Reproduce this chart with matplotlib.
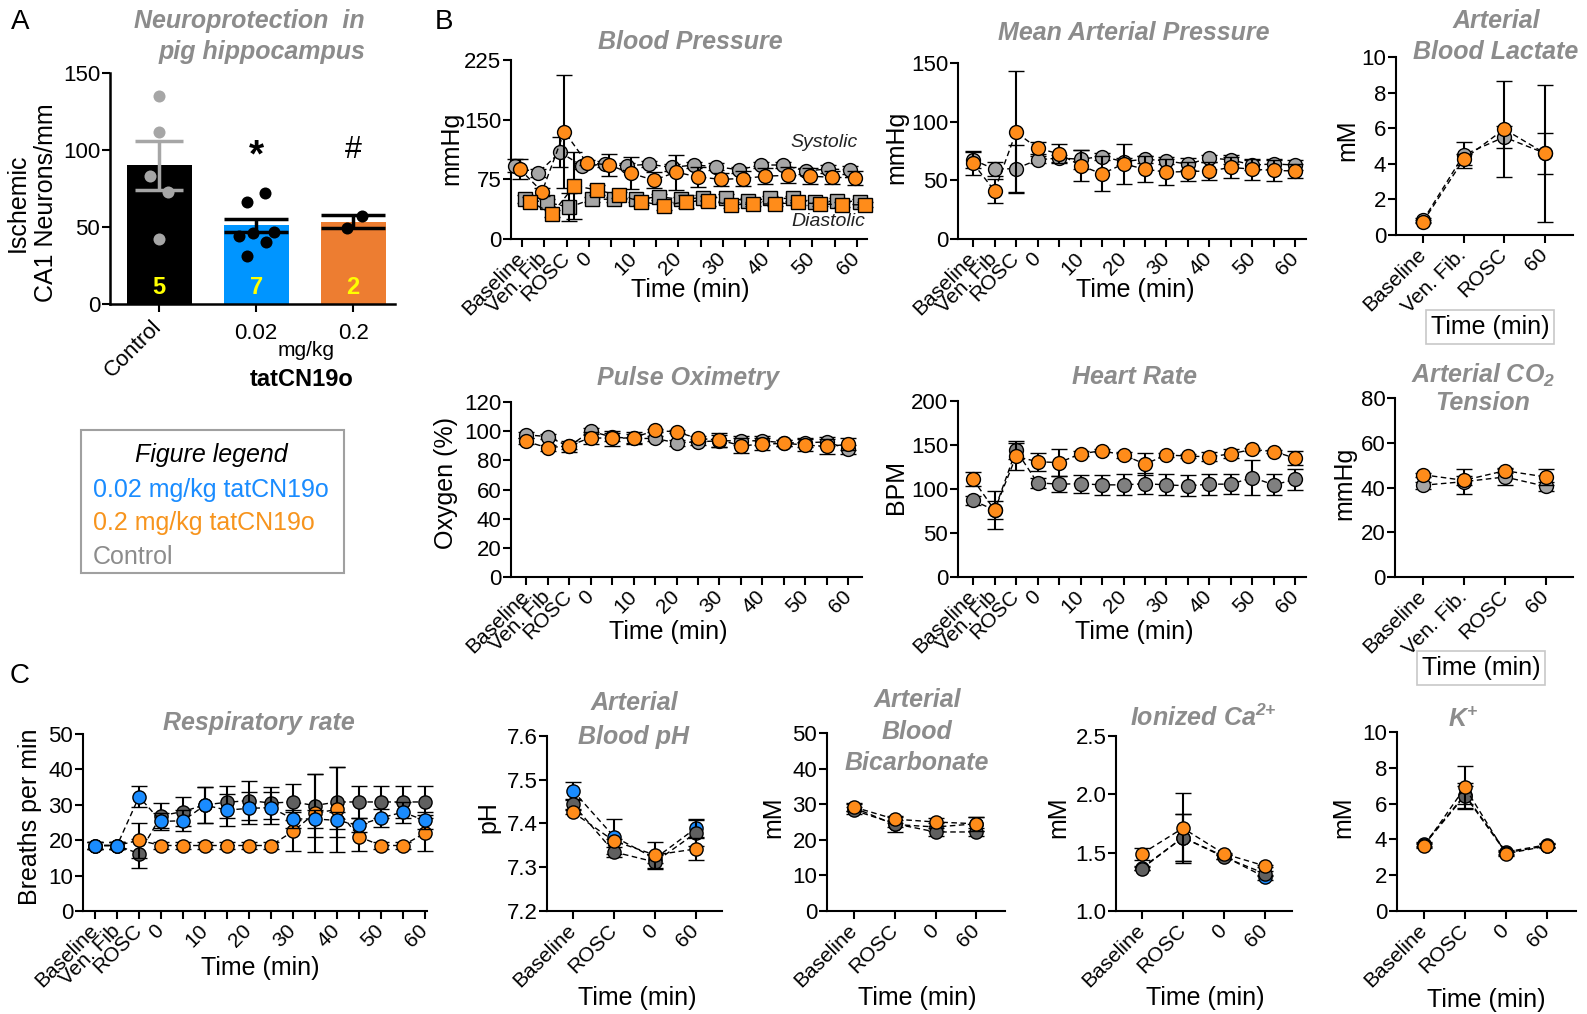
import numpy as np
import matplotlib
matplotlib.use("Agg")
import matplotlib.pyplot as plt
from matplotlib.patches import Rectangle
from matplotlib.ticker import FormatStrFormatter

W, H = 1587, 1014

plt.rcParams['font.family'] = ['Liberation Sans', 'DejaVu Sans']
plt.rcParams['mathtext.fontset'] = 'custom'
plt.rcParams['mathtext.rm'] = 'Liberation Sans:italic:bold'
plt.rcParams['mathtext.it'] = 'Liberation Sans:italic:bold'
plt.rcParams['mathtext.bf'] = 'Liberation Sans:italic:bold'

# ---------------- data ----------------
# panel A
a_groups = ["Control", "0.02", "0.2"]
a_means = [90, 51, 53.5]
a_sem = [16, 4, 4]
a_n = [5, 7, 2]
a_ctrl_pts = [135, 112, 83, 73, 42]
a_low_pts = [66, 72, 44, 46, 47, 40, 31]
a_high_pts = [49.5, 57]

# time axes
long_labels = ["Baseline", "Ven. Fib", "ROSC", "0", "", "10", "", "20", "", "30",
               "", "40", "", "50", "", "60"]
gas_labels = ["Baseline", "Ven. Fib.", "ROSC", "60"]
chem_labels = ["Baseline", "ROSC", "0", "60"]

# blood pressure
bp_sys_ctrl = [92, 82.5, 109, 92, 94, 92, 94, 90, 93, 91, 87, 93, 93, 85.5, 88, 87]
bp_sys_ctrl_err = [8, 5, 19, 4, 4, 4, 4, 4, 4, 4, 4, 4, 4, 4, 5, 5]
bp_sys_high = [88, 59.5, 135, 96, 93, 82.5, 74, 84, 78, 75, 76, 79, 80, 79, 77.5, 77]
bp_sys_high_err = [12, 5, 71, 3, 14, 20, 10, 22, 13, 8, 10, 10, 10, 10, 8, 9]
bp_dia_ctrl = [50, 46, 40, 50, 50, 50, 53, 50, 52, 52, 48, 51, 51, 46, 48, 47]
bp_dia_ctrl_err = [5, 4, 18, 3, 3, 3, 4, 3, 3, 4, 3, 3, 3, 3, 3, 3]
bp_dia_high = [47, 32, 67, 61.6, 55, 47, 42, 47, 48, 43, 44, 44, 46, 44, 43, 43]
bp_dia_high_err = [6, 4, 42, 6, 4, 4, 5, 8, 6, 4, 3, 3, 3, 3, 3, 3]

# mean arterial pressure
map_ctrl = [67.5, 59.5, 60, 67.5, 69, 68, 70.3, 66, 68, 66.6, 63.8, 69, 67.5, 63, 64, 63]
map_ctrl_err = [7, 6, 20, 3, 3, 8, 3, 3, 3, 3, 5, 3, 4, 4, 4, 4]
map_high = [64.6, 41, 91, 77.4, 72.6, 62.6, 55.5, 64, 59.5, 57, 57.5, 58, 61, 59.5, 58.4, 58]
map_high_err = [10, 10, 52, 5, 8, 13, 15, 17, 11, 11, 8, 8, 9, 9, 9, 6]

# lactate
lac_ctrl = [0.83, 4.5, 5.5, 4.6]
lac_ctrl_err = [0.1, 0.75, 0.6, 1.15]
lac_high = [0.75, 4.25, 5.95, 4.6]
lac_high_err = [0.1, 0.3, 2.7, 3.85]

# pulse oximetry
ox_ctrl = [97.5, 96.3, 89.5, 100, 96, 95, 95, 92, 92.7, 93.4, 93.4, 93.4, 92, 92, 92.7, 87.5]
ox_ctrl_err = [2, 2, 4, 2, 3, 3, 2, 2, 2, 4, 3, 3, 2, 3, 3, 3]
ox_high = [93, 88.6, 90, 95.5, 95, 95.5, 100.5, 99.5, 95, 94, 90, 91, 91.7, 90.5, 89.5, 91]
ox_high_err = [2, 2, 2, 4, 5, 4, 1, 1, 2, 5, 5, 4, 2, 4, 5, 4]

# heart rate
hr_ctrl = [87, 76, 144, 107, 105.5, 106, 104.7, 104.7, 106, 104.7, 103.6, 105.5, 105.5, 113, 104.7, 111]
hr_ctrl_err = [5, 10, 10, 6, 9, 10, 11, 12, 12, 12, 12, 12, 11, 20, 12, 12]
hr_high = [111, 76, 137, 131, 130, 140, 143.5, 138.6, 128.4, 138.6, 137.5, 136.5, 140, 145, 142.5, 135]
hr_high_err = [8, 22, 15, 10, 15, 3, 2, 3, 13, 2, 2, 5, 5, 2, 2, 8]

# arterial CO2
co2_ctrl = [41, 42.6, 44.7, 40.5]
co2_ctrl_err = [1.5, 5.5, 3.5, 2]
co2_high = [45.7, 43.2, 47.5, 44.7]
co2_high_err = [1, 2, 1, 3.5]

# respiratory rate
rr_ctrl = [18.5, 18.5, 16.2, 26.9, 28.1, 30, 30.7, 31.2, 30.5, 30.8, 29.8, 30.8, 30.8, 30.8, 30.8, 30.8]
rr_ctrl_err = [1, 1, 4, 3.5, 4, 5, 4.5, 5.5, 4.5, 5, 9, 10, 4.5, 4.5, 4.5, 4.5]
rr_low = [18.5, 18.5, 32.3, 25.3, 25.5, 29.9, 28.5, 29, 29.2, 26, 26, 25.6, 24.2, 26.3, 27.9, 25.6]
rr_low_err = [1, 1, 3, 2.5, 3, 5, 4.5, 4.5, 4.5, 2.5, 2.5, 2.5, 2, 2.5, 3, 2.5]
rr_high = [18.5, 18.5, 20, 18.5, 18.5, 18.5, 18.5, 18.5, 18.5, 22.5, 27.6, 28.7, 21, 18.5, 18.5, 22]
rr_high_err = [1, 1, 5, 1, 1, 1, 1, 1, 1, 5.5, 11, 12, 4, 1, 1, 5]

# blood chemistry
ph_ctrl = [7.444, 7.335, 7.312, 7.379]
ph_ctrl_err = [0.01, 0.012, 0.015, 0.03]
ph_low = [7.475, 7.37, 7.32, 7.39]
ph_low_err = [0.02, 0.04, 0.01, 0.02]
ph_high = [7.426, 7.36, 7.328, 7.342]
ph_high_err = [0.005, 0.005, 0.03, 0.025]

bic_ctrl = [28.3, 24.5, 22.2, 22.2]
bic_ctrl_err = [1, 1, 1, 1]
bic_low = [29, 24.3, 23.6, 24.5]
bic_low_err = [1, 2, 1, 2]
bic_high = [29.2, 25.8, 25, 24.5]
bic_high_err = [1, 1, 1, 2]

ca_ctrl = [1.363, 1.63, 1.463, 1.32]
ca_ctrl_err = [0.01, 0.2, 0.02, 0.02]
ca_low = [1.37, 1.63, 1.47, 1.29]
ca_low_err = [0.02, 0.2, 0.02, 0.02]
ca_high = [1.491, 1.71, 1.491, 1.386]
ca_high_err = [0.05, 0.3, 0.01, 0.01]

k_ctrl = [3.7, 6.45, 3.25, 3.65]
k_ctrl_err = [0.1, 0.7, 0.1, 0.1]
k_low = [3.75, 6.5, 3.3, 3.7]
k_low_err = [0.1, 0.5, 0.1, 0.1]
k_high = [3.63, 6.9, 3.2, 3.63]
k_high_err = [0.1, 1.2, 0.1, 0.1]

# ---------------- styles ----------------
ORANGE = '#ff8c1a'
BLUE = '#1a8cff'
LGREY = '#a6a6a6'
MGREY = '#808080'
DGREY = '#606060'
TITLE_GREY = '#8c8c8c'

fig = plt.figure(figsize=(W / 100, H / 100), dpi=100)


def add_ax(x0, y0, x1, y1):
    return fig.add_axes([x0 / W, 1 - y1 / H, (x1 - x0) / W, (y1 - y0) / H])


def ftext(x, y, s, **kw):
    kw.setdefault('ha', 'center')
    kw.setdefault('va', 'center')
    return fig.text(x / W, 1 - y / H, s, **kw)


def title(x, ys, lines, ha='center'):
    for y, s in zip(ys, lines):
        ftext(x, y, s, ha=ha, fontsize=18, fontweight='bold', style='italic', color=TITLE_GREY)


def ylab(ax, s, x, y, size=18):
    ax.set_ylabel(s, fontsize=size)
    ax.yaxis.label.set_va('center')
    ax.yaxis.set_label_coords(x / W, 1 - y / H, transform=fig.transFigure)


def xlab(ax, s, x, y, box=False):
    ax.set_xlabel(s, fontsize=18)
    ax.xaxis.label.set_va('center')
    ax.xaxis.set_label_coords(x / W, 1 - y / H, transform=fig.transFigure)
    if box:
        ax.xaxis.label.set_bbox(dict(facecolor='white', edgecolor='#c8c8c8', lw=1.2,
                                     boxstyle='square,pad=0.2'))


def style(ax, ylim, yticks, xlim, labels, fmt=None):
    ax.set_ylim(ylim)
    ax.set_yticks(yticks)
    if fmt:
        ax.yaxis.set_major_formatter(FormatStrFormatter(fmt))
    ax.set_xlim(xlim)
    ax.set_xticks(np.arange(len(labels)))
    ax.set_xticklabels(labels, rotation=45, ha='right', va='center',
                       rotation_mode='anchor', fontsize=15)
    for s in ['top', 'right']:
        ax.spines[s].set_visible(False)
    for s in ['left', 'bottom']:
        ax.spines[s].set_linewidth(1.5)
    ax.tick_params(direction='out', length=6, width=1.5)
    ax.tick_params(axis='y', labelsize=16, pad=1)
    ax.tick_params(axis='x', pad=6)
    ax.patch.set_alpha(0)


def series(ax, y, err, color, marker='o', offset=0.0, ms=10, z=3):
    x = np.arange(len(y)) + offset
    c = ax.errorbar(x, y, yerr=err, marker=marker, linestyle='--', dashes=(4, 2.5),
                    lw=1, color='black', mfc=color, mec='black', mew=1, ms=ms,
                    ecolor='black', elinewidth=1.5, capsize=6, capthick=1.5, zorder=z)
    for art in c.get_children():
        art.set_clip_on(False)


# ---------------- panel A ----------------
axA = add_ax(110, 73, 395, 304)
xa = np.arange(3)
axA.bar(xa, a_means, width=0.67, color=['black', '#0095ff', '#ed7d31'], zorder=1)
axA.errorbar([0], [a_means[0]], yerr=[a_sem[0]], fmt='none', ecolor=LGREY,
             elinewidth=2.5, capsize=17, capthick=2.5, zorder=3)
axA.errorbar(xa[1:], a_means[1:], yerr=a_sem[1:], fmt='none', ecolor='black',
             elinewidth=2.5, capsize=23, capthick=2.5, zorder=3)
jitter = [[0, 0, -0.09, 0.09, 0], [-0.09, 0.09, -0.18, -0.03, 0.18, 0.1, -0.09], [-0.06, 0.09]]
for i, (pts, col) in enumerate([(a_ctrl_pts, LGREY), (a_low_pts, 'black'), (a_high_pts, 'black')]):
    axA.scatter(np.array(jitter[i]) + i, pts, s=75, color=col, zorder=4, lw=0)
for i, n in enumerate(a_n):
    axA.text(i, 11, str(n), color='#ffff00', fontsize=17, fontweight='bold', ha='center', va='center')
axA.text(1, 96, '*', fontsize=28, fontweight='bold', ha='center', va='center')
axA.text(2, 100, '#', fontsize=22, ha='center', va='center')
axA.set_ylim(0, 150)
axA.set_yticks([0, 50, 100, 150])
axA.set_xlim(-0.505, 2.43)
axA.set_xticks(xa)
axA.set_xticklabels(a_groups, fontsize=16)
lab0 = axA.get_xticklabels()[0]
lab0.set_rotation(45)
lab0.set_ha('right')
lab0.set_va('center')
lab0.set_rotation_mode('anchor')
for s in ['top', 'right']:
    axA.spines[s].set_visible(False)
for s in ['left', 'bottom']:
    axA.spines[s].set_linewidth(1.8)
axA.tick_params(direction='out', length=6, width=1.5, labelsize=16)
axA.tick_params(axis='y', pad=1)
axA.tick_params(axis='x', pad=8)
ylab(axA, "Ischemic\nCA1 Neurons/mm", 32, 203)
ftext(306, 350, "mg/kg", fontsize=15)
ftext(302, 380, "tatCN19o", fontsize=17, fontweight='bold')
title(365, [21, 52], ["Neuroprotection  in", "pig hippocampus"], ha='right')

# legend box
fig.add_artist(Rectangle((81 / W, 1 - 573 / H), (344 - 81) / W, (573 - 430) / H,
                         transform=fig.transFigure, fill=False, ec='#a0a0a0', lw=1.5))
ftext(211, 455, "Figure legend", fontsize=18, style='italic')
ftext(93, 490, "0.02 mg/kg tatCN19o", fontsize=18, ha='left', color='#1a8cff')
ftext(93, 523, "0.2 mg/kg tatCN19o", fontsize=18, ha='left', color='#f7941d')
ftext(93, 557, "Control", fontsize=18, ha='left', color='#8c8c8c')

# panel letters
ftext(20, 22, "A", fontsize=20)
ftext(444, 22, "B", fontsize=20)
ftext(20, 676, "C", fontsize=20)

# ---------------- panel B ----------------
axBP = add_ax(511, 60, 867, 239)
series(axBP, bp_sys_ctrl, bp_sys_ctrl_err, LGREY, offset=-0.3)
series(axBP, bp_dia_ctrl, bp_dia_ctrl_err, LGREY, marker='s', offset=0.12)
series(axBP, bp_sys_high, bp_sys_high_err, ORANGE, offset=-0.1, z=4)
series(axBP, bp_dia_high, bp_dia_high_err, ORANGE, marker='s', offset=0.35, z=4)
style(axBP, (0, 225), [0, 75, 150, 225], (-0.49, 15.45), long_labels)
ylab(axBP, "mmHg", 451, 148)
xlab(axBP, "Time (min)", 690, 290)
title(690, [42], ["Blood Pressure"])
ftext(858, 143, "Systolic", fontsize=14, style='italic', ha='right', color='#222222')
ftext(865, 222, "Diastolic", fontsize=14, style='italic', ha='right', color='#222222')

axMAP = add_ax(958, 63, 1306, 239)
series(axMAP, map_ctrl, map_ctrl_err, LGREY)
series(axMAP, map_high, map_high_err, ORANGE, z=4)
style(axMAP, (0, 150), [0, 50, 100, 150], (-0.7, 15.49), long_labels)
ylab(axMAP, "mmHg", 896, 147)
xlab(axMAP, "Time (min)", 1135, 290)
title(1134, [33], ["Mean Arterial Pressure"])

axLac = add_ax(1396, 57, 1573, 235)
series(axLac, lac_ctrl, lac_ctrl_err, LGREY)
series(axLac, lac_high, lac_high_err, ORANGE, z=4)
style(axLac, (0, 10), [0, 2, 4, 6, 8, 10], (-0.67, 3.7), gas_labels)
ylab(axLac, "mM", 1347, 140)
xlab(axLac, "Time (min)", 1490, 327, box=True)
title(1496, [21, 52], ["Arterial", "Blood Lactate"])

axOx = add_ax(511, 402, 862, 577)
series(axOx, ox_ctrl, ox_ctrl_err, LGREY)
series(axOx, ox_high, ox_high_err, ORANGE, z=4)
style(axOx, (0, 120), [0, 20, 40, 60, 80, 100, 120], (-0.7, 15.63), long_labels)
ylab(axOx, "Oxygen (%)", 446, 483)
xlab(axOx, "Time (min)", 668, 632)
title(688, [378], ["Pulse Oximetry"])

axHR = add_ax(958, 401, 1306, 577)
series(axHR, hr_ctrl, hr_ctrl_err, MGREY)
series(axHR, hr_high, hr_high_err, ORANGE, z=4)
style(axHR, (0, 200), [0, 50, 100, 150, 200], (-0.7, 15.49), long_labels)
ylab(axHR, "BPM", 896, 487)
xlab(axHR, "Time (min)", 1134, 632)
title(1134, [377], ["Heart Rate"])

axCO2 = add_ax(1395, 398, 1573, 577)
series(axCO2, co2_ctrl, co2_ctrl_err, LGREY)
series(axCO2, co2_high, co2_high_err, ORANGE, z=4)
style(axCO2, (0, 80), [0, 20, 40, 60, 80], (-0.68, 3.66), gas_labels)
ylab(axCO2, "mmHg", 1344, 483)
xlab(axCO2, "Time (min)", 1481, 668, box=True)
title(1483, [375, 403], ["Arterial CO$_{2}$", "Tension"])

# ---------------- panel C ----------------
axRR = add_ax(83, 734, 427, 911)
series(axRR, rr_ctrl, rr_ctrl_err, DGREY, ms=9.5)
series(axRR, rr_high, rr_high_err, ORANGE, ms=9.5, z=4)
series(axRR, rr_low, rr_low_err, BLUE, ms=9.5, z=5)
style(axRR, (0, 50), [0, 10, 20, 30, 40, 50], (-0.55, 15.1), long_labels)
ylab(axRR, "Breaths per min", 30, 817)
xlab(axRR, "Time (min)", 260, 968)
title(259, [723], ["Respiratory rate"])

axPH = add_ax(547, 736, 722, 911)
series(axPH, ph_low, ph_low_err, BLUE, ms=9.5)
series(axPH, ph_ctrl, ph_ctrl_err, DGREY, ms=9.5, z=4)
series(axPH, ph_high, ph_high_err, ORANGE, ms=9.5, z=5)
style(axPH, (7.2, 7.6), [7.2, 7.3, 7.4, 7.5, 7.6], (-0.63, 3.63), chem_labels, fmt='%.1f')
ylab(axPH, "pH", 488, 817)
xlab(axPH, "Time (min)", 637, 998)
title(634, [703, 737], ["Arterial", "Blood pH"])

axBic = add_ax(827, 733, 1005, 911)
series(axBic, bic_low, bic_low_err, BLUE, ms=9.5)
series(axBic, bic_ctrl, bic_ctrl_err, DGREY, ms=9.5, z=4)
series(axBic, bic_high, bic_high_err, ORANGE, ms=9.5, z=5)
style(axBic, (0, 50), [0, 10, 20, 30, 40, 50], (-0.66, 3.7), chem_labels)
ylab(axBic, "mM", 773, 817)
xlab(axBic, "Time (min)", 917, 998)
title(917, [700, 732, 763], ["Arterial", "Blood", "Bicarbonate"])

axCa = add_ax(1116, 736, 1292, 911)
series(axCa, ca_low, ca_low_err, BLUE, ms=9.5)
series(axCa, ca_ctrl, ca_ctrl_err, DGREY, ms=9.5, z=4)
series(axCa, ca_high, ca_high_err, ORANGE, ms=9.5, z=5)
style(axCa, (1.0, 2.5), [1.0, 1.5, 2.0, 2.5], (-0.63, 3.66), chem_labels, fmt='%.1f')
ylab(axCa, "mM", 1058, 817)
xlab(axCa, "Time (min)", 1205, 998)
title(1203, [718], ["Ionized Ca$^{2{+}}$"])

axK = add_ax(1397, 732, 1576, 911)
series(axK, k_low, k_low_err, BLUE, ms=9.5)
series(axK, k_ctrl, k_ctrl_err, DGREY, ms=9.5, z=4)
series(axK, k_high, k_high_err, ORANGE, ms=9.5, z=5)
style(axK, (0, 10), [0, 2, 4, 6, 8, 10], (-0.66, 3.71), chem_labels)
ylab(axK, "mM", 1343, 817)
xlab(axK, "Time (min)", 1486, 1000)
title(1463, [720], ["K$^{+}$"])

fig.savefig("out.png", dpi=100)
